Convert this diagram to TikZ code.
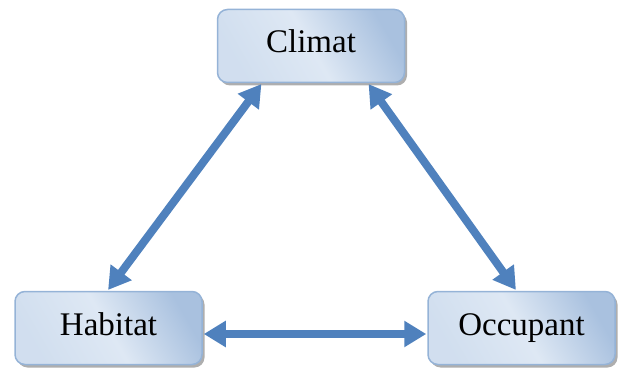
\documentclass[tikz,border=0pt]{standalone}
\usepackage{fontspec}
\setmainfont{Liberation Serif}
\usetikzlibrary{arrows.meta,shadows}
\definecolor{arrowblue}{HTML}{4F81BD}
\definecolor{boxborder}{HTML}{95B3D7}
\definecolor{boxlight}{HTML}{DEE8F4}
\definecolor{boxdark}{HTML}{A9C1DF}
\tikzset{
  box/.style={draw=boxborder, line width=1.5pt, rounded corners=10pt,
    left color=boxlight!75!boxdark, right color=boxdark, middle color=boxlight, shading angle=120,
    drop shadow={shadow xshift=2.5pt, shadow yshift=-3pt, fill=black!45, opacity=0.7},
    minimum width=187pt, minimum height=73pt, inner sep=0pt,
    text height=22pt, text depth=8pt,
    font=\fontsize{33}{38}\selectfont},
  link/.style={draw=arrowblue, line width=8pt,
    {Triangle[length=22pt,width=25pt]}-{Triangle[length=22pt,width=25pt]}, shorten <=1pt, shorten >=1pt}
}
\begin{document}
\begin{tikzpicture}[x=1pt,y=-1pt]
\useasboundingbox (0,0) rectangle (624,369);
\node[box] (climat) at (311,46) {Climat};
\node[box] (habitat) at (108.5,328) {Habitat};
\node[box] (occupant) at (521.5,328) {Occupant};
\draw[link] ([xshift=-49pt]climat.south) -- ([xshift=-1pt]habitat.north);
\draw[link] ([xshift=57pt]climat.south) -- ([xshift=-5pt]occupant.north);
\draw[link] ([yshift=-6pt]habitat.east) -- ([yshift=-6pt]occupant.west);
\end{tikzpicture}
\end{document}
